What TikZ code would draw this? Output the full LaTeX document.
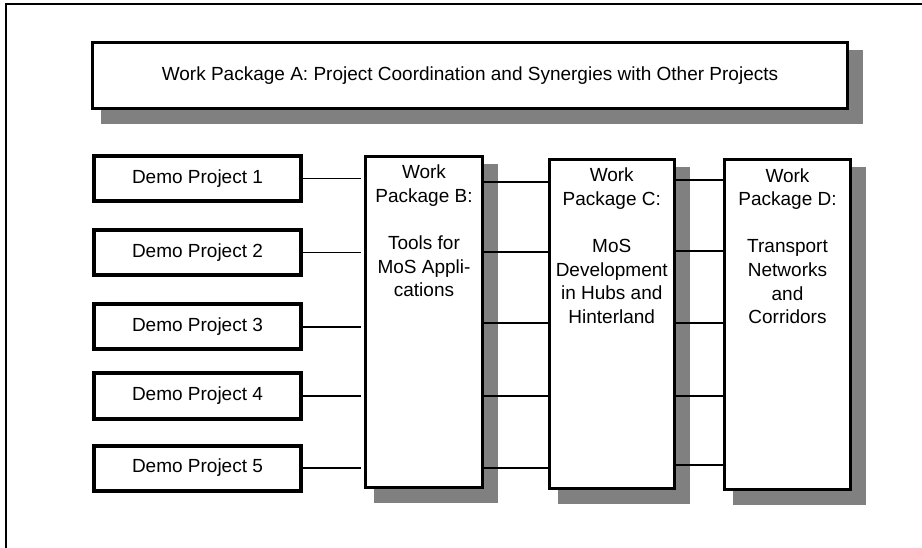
\documentclass[tikz,border=0pt]{standalone}
\usepackage{fontspec}
\setmainfont{Liberation Sans}
\usetikzlibrary{calc}
\pgfdeclarelayer{background}
\pgfsetlayers{background,main}
\definecolor{shadowgray}{HTML}{808080}
\begin{document}
\begin{tikzpicture}[x=1pt,y=-1pt,
  font=\fontsize{19}{23.6}\selectfont,
  box/.style={draw=black, fill=white, line width=3pt, inner sep=0pt},
  demobox/.style={draw=black, fill=white, line width=4pt, inner sep=0pt,
                  minimum width=207pt, minimum height=45pt},
  wptext/.style={anchor=north, align=center, inner sep=0pt},
  link/.style={line width=1.1pt},
  framestyle/.style={line width=2pt},
  shade/.style={fill=shadowgray}]
\useasboundingbox (0,0) rectangle (922,548);

% outer frame
\draw[framestyle] (6,548) -- (6,4) -- (922,4);

% coordination package
\node[box, minimum width=755pt, minimum height=66pt] (a) at (470,75.5)
  {Work Package A: Project Coordination and Synergies with Other Projects};

% demo projects
\node[demobox] (d1) at (197.5,178.5) {Demo Project 1};
\node[demobox] (d2) at (197.5,252.5) {Demo Project 2};
\node[demobox] (d3) at (197.5,327)   {Demo Project 3};
\node[demobox] (d4) at (197.5,396)   {Demo Project 4};
\node[demobox] (d5) at (197.5,468)   {Demo Project 5};

% thematic work packages
\node[box, minimum width=117pt,   minimum height=331pt]   (b) at (424,322) {};
\node[box, minimum width=124.5pt, minimum height=328.5pt] (c) at (611.75,323.75) {};
\node[box, minimum width=125.6pt, minimum height=330pt]   (d) at (787.5,324.7) {};

\node[wptext] (bt) at ($(b.north)+(0,10)$)
  {Work\\Package B:\\ \\Tools for\\MoS Appli-\\cations};
\node[wptext] (ct) at ($(c.north)+(0,10)$)
  {Work\\Package C:\\ \\MoS\\Development\\in Hubs and\\Hinterland};
\node[wptext] (dt) at ($(d.north)+(0,10)$)
  {Work\\Package D:\\ \\Transport\\Networks\\and\\Corridors};

% drop shadows
\begin{pgfonlayer}{background}
  \foreach \n in {a,b,c,d}
    \fill[shade] ($(\n.north west)+(10,9)$) rectangle ($(\n.south east)+(14,14)$);
\end{pgfonlayer}

% links from demo projects to package B
\foreach \i in {1,...,5}
  \draw[link, shorten >=3pt] (d\i.east) -- (d\i.east -| b.west);

% links between packages B and C
\foreach \y in {182,252,323,396,468}
  \draw[link, shorten <=-3pt] (b.east |- 0,\y) -- (c.west |- 0,\y);

% links between packages C and D
\foreach \y in {180,251,323,396,465}
  \draw[link] (c.east |- 0,\y) -- (d.west |- 0,\y);
\end{tikzpicture}
\end{document}
